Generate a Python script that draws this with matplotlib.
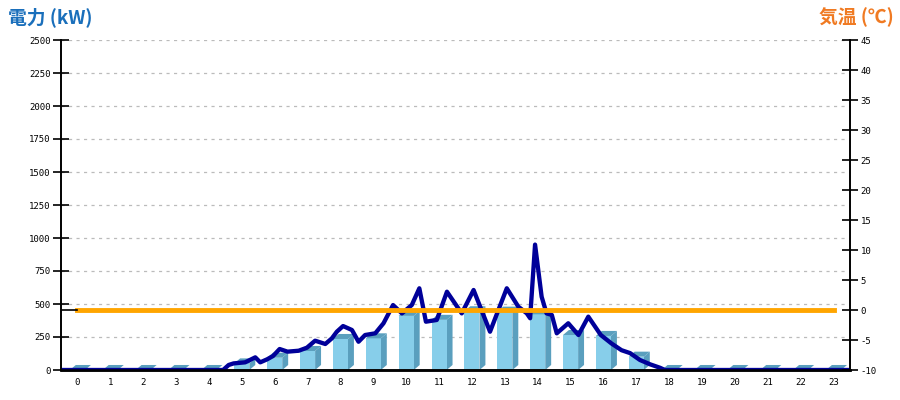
import matplotlib
matplotlib.use('Agg')
import matplotlib.pyplot as plt
from matplotlib.patches import Polygon

plt.rcParams['font.family'] = ['Noto Sans CJK JP', 'DejaVu Sans']

# hourly generation (kW), bars
hours = list(range(24))
power_hourly = [0, 0, 0, 0, 0, 50, 93, 144, 235, 240, 410, 380, 445, 442, 422,
                265, 258, 101, 0, 0, 0, 0, 0, 0]

# instantaneous generation (kW), line
power_t = [-0.5, 4.43, 4.6, 4.75, 5.1, 5.41, 5.56, 5.77, 5.95, 6.15, 6.39, 6.73,
           6.98, 7.23, 7.54, 7.74, 7.89, 8.08, 8.35, 8.55, 8.75, 9.06, 9.31, 9.6,
           9.87, 10.17, 10.4, 10.6, 10.93, 11.24, 11.69, 12.05, 12.55, 13.06,
           13.41, 13.67, 13.77, 13.92, 14.12, 14.27, 14.43, 14.58, 14.93, 15.24,
           15.54, 15.92, 16.25, 16.55, 16.81, 17.11, 17.42, 17.72, 17.87, 23.5]
power_v = [0, 0, 38, 50, 58, 96, 58, 81, 106, 159, 139, 146,
           169, 222, 197, 240, 290, 333, 303, 214, 265, 278, 354, 492,
           429, 492, 619, 366, 379, 593, 429, 606, 290, 619,
           480, 429, 392, 950, 555, 429, 417, 278, 354, 265,
           404, 265, 200, 150, 128, 76, 43, 17, 0, 0]

# temperature (°C)
temps = [0] * 24

fig = plt.figure(figsize=(9, 4), dpi=100)
ax = fig.add_axes([61 / 900, 30 / 400, 789 / 900, 330 / 400])
ax2 = ax.twinx()

# 3D-looking bars
w = 0.46
dx = 0.18
dy = 38
front_c = '#87ceea'
dark_c = '#5a9fbe'
for h, v in zip(hours, power_hourly):
    x0, x1 = h - w / 2, h + w / 2
    if v > 0:
        ax.add_patch(Polygon([(x1, 0), (x1 + dx, dy), (x1 + dx, v + dy), (x1, v)],
                             closed=True, fc=dark_c, ec='none', zorder=2))
        ax.add_patch(Polygon([(x0, 0), (x1, 0), (x1, v), (x0, v)],
                             closed=True, fc=front_c, ec='none', zorder=2))
    ax.add_patch(Polygon([(x0, v), (x0 + dx, v + dy), (x1 + dx, v + dy), (x1, v)],
                         closed=True, fc=dark_c, ec='none', zorder=2))

ax.plot(power_t, power_v, color='#000099', lw=3.1, zorder=3, solid_joinstyle='round')

ax2.plot(hours, temps, color='#ffa500', lw=3.5, zorder=4)
ax2.plot([-0.5, hours[0]], [temps[0], temps[0]], color='black', lw=1.2, zorder=4)

ax.set_xlim(-0.5, 23.5)
ax.set_ylim(0, 2500)
ax2.set_ylim(-10, 45)
ax.set_yticks(range(0, 2501, 250))
ax2.set_yticks(range(-10, 46, 5))
ax.set_xticks(hours)

ax.grid(axis='y', color='#bbbbbb', linestyle=(0, (2.5, 3.5)), lw=0.9)
ax.set_axisbelow(True)

tick_font = dict(family='DejaVu Sans Mono', size=6.5)
ax.set_yticklabels([str(t) for t in range(0, 2501, 250)], fontdict=tick_font)
ax2.set_yticklabels([str(t) for t in range(-10, 46, 5)], fontdict=tick_font)
ax.set_xticklabels([str(h) for h in hours], fontdict=tick_font)

ax.tick_params(axis='y', direction='inout', length=11, width=1.2, pad=2)
ax2.tick_params(axis='y', direction='inout', length=11, width=1.2, pad=2)
ax.tick_params(axis='x', length=0, pad=6)

for a in (ax, ax2):
    a.spines['top'].set_visible(False)
    a.spines['left'].set_linewidth(1.2)
    a.spines['right'].set_linewidth(1.2)
    a.spines['bottom'].set_linewidth(1.8)

fig.text(8 / 900, 1 - 17 / 400, '電力 (kW)', color='#1a6fbb', fontsize=13.5,
         fontweight='bold', va='center', ha='left')
fig.text(894 / 900, 1 - 17 / 400, '気温 (℃)', color='#f07a22', fontsize=13.5,
         fontweight='bold', va='center', ha='right')

fig.savefig('out.png', dpi=100)
